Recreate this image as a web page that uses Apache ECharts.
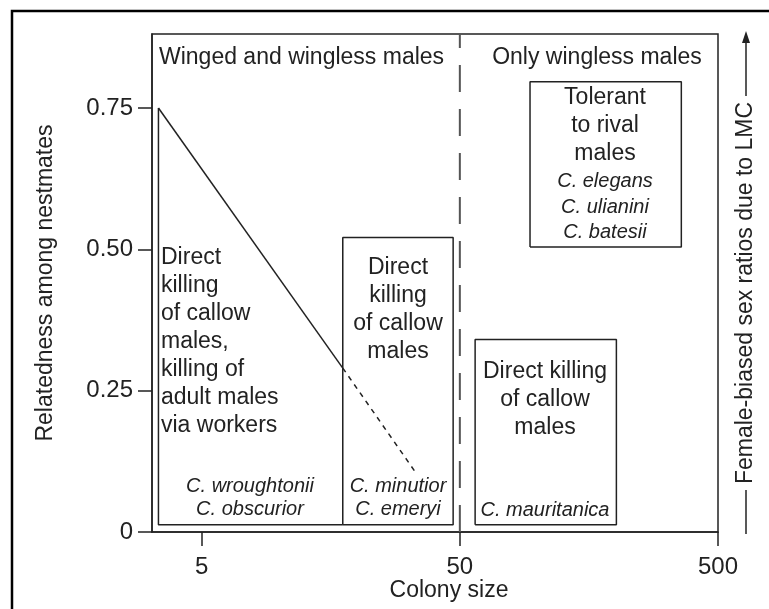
<!DOCTYPE html>
<html>
<head>
<meta charset="utf-8">
<script src="https://cdn.jsdelivr.net/npm/echarts@6/dist/echarts.min.js"></script>
<style>
html, body { margin: 0; padding: 0; background: #fff; }
#drew { width: 769px; height: 609px; }
</style>
</head>
<body>
<div id="drew"></div>
<script>
// axes (colony size on a log scale, relatedness linear)
var xTicks = [5, 50, 500];
var xRange = [3.21, 500];
var yTicks = [0, 0.25, 0.5, 0.75];
var yRange = [0, 0.881];

// [colony size, relatedness]
var slopeSolid = [[3.4, 0.75], [17.6, 0.29]];
var slopeDotted = [[17.6, 0.29], [34.1, 0.102]];
var winglessLimit = [[50, 0], [50, 0.881]];
var openBox = [[3.4, 0.75], [3.4, 0.013], [17.6, 0.013]];
// [size from, size to, relatedness from, relatedness to]
var boxes = [
    [17.6, 47.1, 0.013, 0.521],
    [57.3, 202, 0.013, 0.3405],
    [93.5, 360.5, 0.5044, 0.7965]
];

var headers = ['Winged and wingless males', 'Only wingless males'];
var boxTexts = [
    'Direct\nkilling\nof callow\nmales,\nkilling of\nadult males\nvia workers',
    'Direct\nkilling\nof callow\nmales',
    'Direct killing\nof callow\nmales',
    'Tolerant\nto rival\nmales'
];
var species = [
    'C. wroughtonii\nC. obscurior',
    'C. minutior\nC. emeryi',
    'C. mauritanica',
    'C. elegans\nC. ulianini\nC. batesii'
];

var font = '"Liberation Sans", Arial, Helvetica, sans-serif';
var ink = '#222';

function lg(p) { return [Math.log10(p[0]), p[1]]; }
function boxPath(b) {
    return [[b[0], b[2]], [b[0], b[3]], [b[1], b[3]], [b[1], b[2]], [b[0], b[2]]].map(lg);
}
function lineSeries(pts, style) {
    return {
        type: 'line', data: pts, symbol: 'none', silent: true,
        lineStyle: Object.assign({ color: ink, width: 1.5 }, style || {})
    };
}

var series = [
    lineSeries(openBox.map(lg)),
    lineSeries(slopeSolid.map(lg)),
    lineSeries(slopeDotted.map(lg), { type: [5, 5] }),
    lineSeries(winglessLimit.map(lg), { type: [27, 17], width: 2, color: '#555' })
];
boxes.forEach(function (b) { series.push(lineSeries(boxPath(b))); });

function txt(x, y, s, opt) {
    return {
        type: 'text', x: x, y: y, silent: true,
        style: Object.assign({
            text: s, fill: ink, font: '23px ' + font,
            textAlign: 'center', textVerticalAlign: 'top', lineHeight: 28
        }, opt || {})
    };
}
var ital = { font: 'italic 20px ' + font, lineHeight: 23 };

var graphics = [
    { type: 'rect', shape: { x: 12, y: 11, width: 800, height: 700 },
      style: { fill: null, stroke: '#000', lineWidth: 2.5 }, silent: true },
    txt(159, 44, headers[0], { textAlign: 'left' }),
    txt(597, 44, headers[1]),
    txt(161, 244, boxTexts[0], { textAlign: 'left' }),
    txt(398, 254, boxTexts[1]),
    txt(545, 358, boxTexts[2]),
    txt(605, 84, boxTexts[3]),
    txt(250, 475, species[0], ital),
    txt(398, 475, species[1], ital),
    txt(545, 499, species[2], ital),
    txt(605, 169, species[3], Object.assign({}, ital, { lineHeight: 25.5 })),
    txt(449, 577, 'Colony size'),
    // right-hand annotation
    { type: 'text', x: 746, y: 293, rotation: Math.PI / 2, silent: true,
      style: { text: 'Female-biased sex ratios due to LMC', fill: ink, font: '23px ' + font,
               textAlign: 'center', textVerticalAlign: 'middle' } },
    { type: 'line', shape: { x1: 746, y1: 534, x2: 746, y2: 490 }, style: { stroke: ink, lineWidth: 1.5 }, silent: true },
    { type: 'line', shape: { x1: 746, y1: 96, x2: 746, y2: 40 }, style: { stroke: ink, lineWidth: 1.5 }, silent: true },
    { type: 'polygon', shape: { points: [[746, 31], [742, 43], [750, 43]] }, style: { fill: ink }, silent: true }
];

var myChart = echarts.init(document.getElementById('drew'));
var option = {
    animation: false,
    backgroundColor: '#fff',
    grid: { left: 152, right: 51, top: 34, bottom: 77, show: true, borderColor: ink, borderWidth: 1.5 },
    xAxis: {
        type: 'value', min: Math.log10(xRange[0]), max: Math.log10(xRange[1]),
        splitLine: { show: false },
        axisLine: { lineStyle: { color: ink, width: 1.5 } },
        axisTick: { length: 14, lineStyle: { color: ink, width: 1.5 }, customValues: xTicks.map(Math.log10) },
        axisLabel: {
            customValues: xTicks.map(Math.log10), margin: 23, color: ink,
            fontSize: 24, fontFamily: font,
            formatter: function (v) { return String(Math.round(Math.pow(10, v))); }
        }
    },
    yAxis: {
        type: 'value', min: yRange[0], max: yRange[1],
        name: 'Relatedness among nestmates', nameLocation: 'middle', nameGap: 95, nameRotate: 90,
        nameTextStyle: { color: ink, fontSize: 23, fontFamily: font },
        splitLine: { show: false },
        axisLine: { lineStyle: { color: ink, width: 1.5 } },
        axisTick: { length: 14, lineStyle: { color: ink, width: 1.5 }, customValues: yTicks },
        axisLabel: {
            customValues: yTicks, margin: 19, color: ink, fontSize: 24, fontFamily: font,
            formatter: function (v) { return v === 0 ? '0' : v.toFixed(2); }
        }
    },
    series: series,
    graphic: graphics
};
myChart.setOption(option);
</script>
</body>
</html>
